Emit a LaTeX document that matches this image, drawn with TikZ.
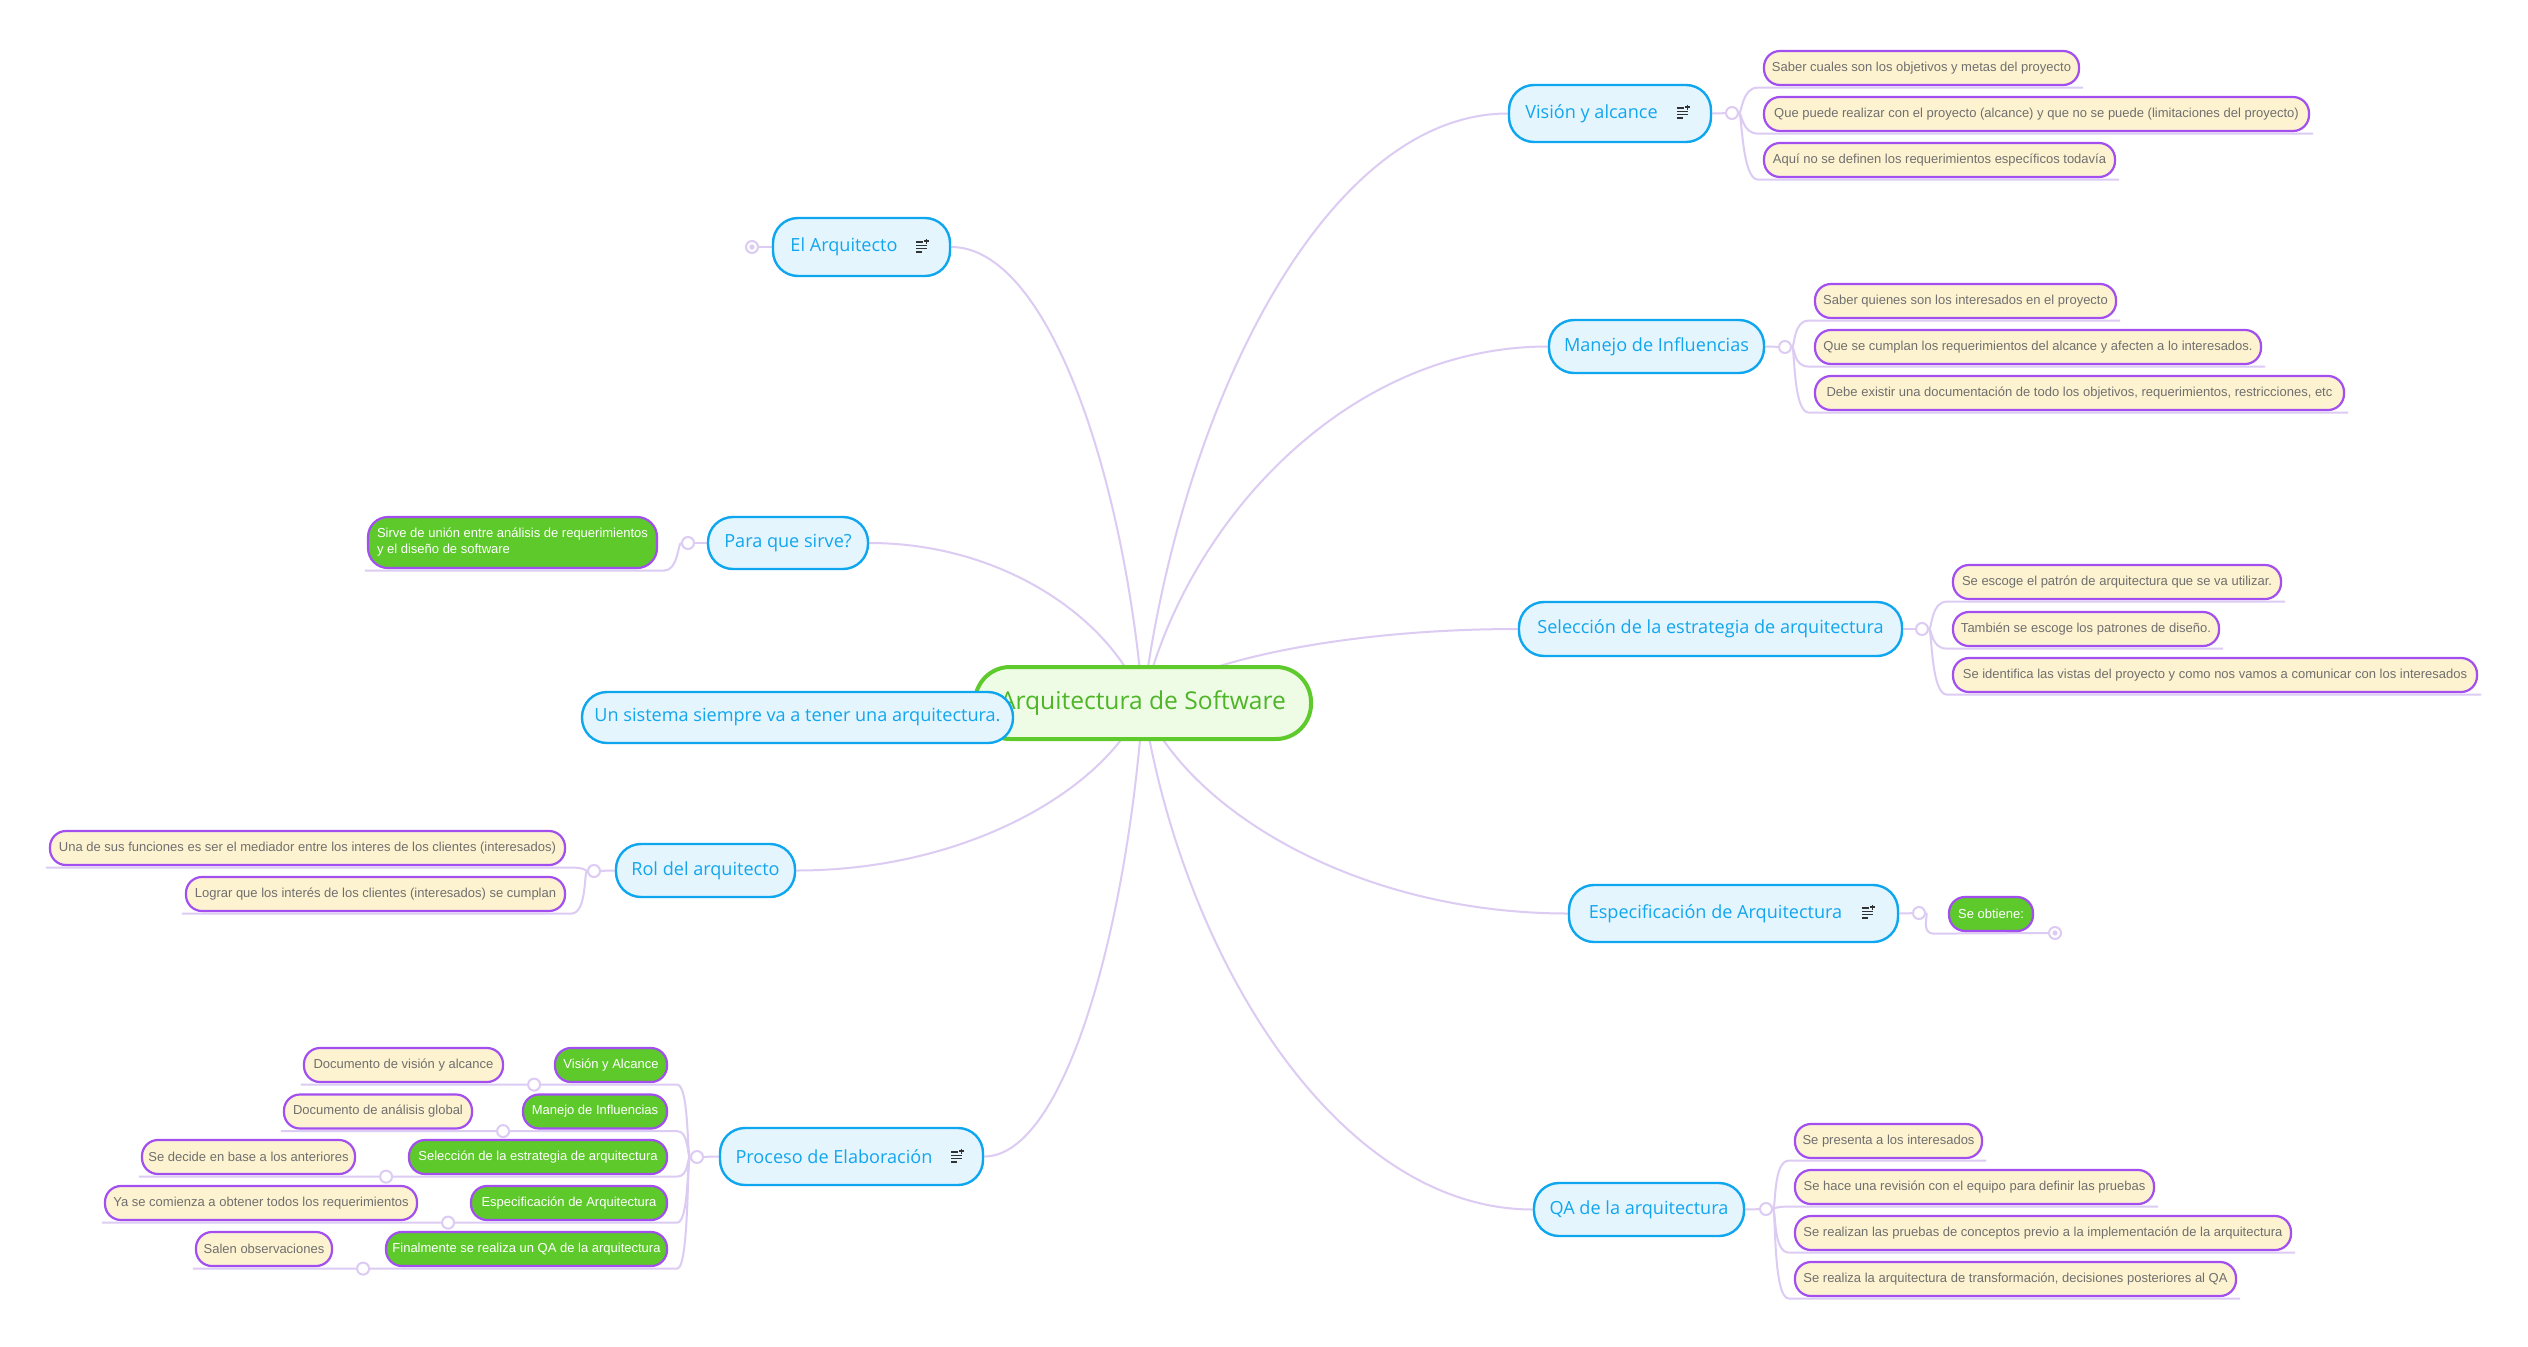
\documentclass[tikz,border=0pt]{standalone}
\usepackage{fontspec}
\setmainfont{Liberation Sans}
\newfontfamily\topicfont{Open Sans}
\usetikzlibrary{backgrounds}
\definecolor{connc}{HTML}{DCCBF2}
\definecolor{topicb}{HTML}{0EA7EF}
\definecolor{topicf}{HTML}{E4F5FD}
\definecolor{topict}{HTML}{12A6EE}
\definecolor{cenb}{HTML}{5FCA2C}
\definecolor{cenf}{HTML}{EEFCE6}
\definecolor{cent}{HTML}{4DB527}
\definecolor{leafb}{HTML}{A34FF0}
\definecolor{leaff}{HTML}{FEF3D0}
\definecolor{leaft}{HTML}{6F6F6F}
\definecolor{greenf}{HTML}{5DC92B}
\definecolor{iconc}{HTML}{333333}
\tikzset{
  conn/.style={draw=connc, line width=2pt},
  topic/.style={draw=topicb, fill=topicf, line width=2.4pt, rounded corners=25pt, inner sep=0pt, text=topict, font=\topicfont\fontsize{18.1}{20}\selectfont},
  leaf/.style={draw=leafb, fill=leaff, line width=2.2pt, rounded corners=16pt, minimum height=34pt, inner sep=0pt, text=leaft, font=\fontsize{13}{15}\selectfont},
  gleaf/.style={leaf, fill=greenf, text=white},
  circ/.style={circle, draw=connc, fill=white, line width=2pt, minimum size=12pt, inner sep=0pt},
  noteicon/.pic={
    \draw[iconc, line width=1.5pt] (-6,-5) -- (1,-5) (-6,-1.7) -- (5,-1.7) (-6,1.6) -- (5,1.6) (-6,4.9) -- (0,4.9);
    \draw[iconc, line width=1.2pt] (4.5,-8.5) -- (4.5,-3.5) (2,-6) -- (7,-6);
  }
}
\begin{document}
\begin{tikzpicture}[x=1pt,y=-1pt]
\useasboundingbox (0,0) rectangle (2528,1347);

% ---------- main topics ----------
\node[topic, minimum width=202pt, minimum height=57pt] (vis) at (1610,113.5) {Visión y alcance\kern 37pt};
\pic at (1683,113) {noteicon};
\node[topic, minimum width=215pt, minimum height=53pt] (man) at (1656.5,346.5) {Manejo de Influencias};
\node[topic, minimum width=383pt, minimum height=54pt] (sel) at (1710.5,629) {Selección de la estrategia de arquitectura};
\node[topic, minimum width=329pt, minimum height=57pt] (esp) at (1733.5,913.5) {Especificación de Arquitectura\kern 36pt};
\pic at (1868,913) {noteicon};
\node[topic, minimum width=210pt, minimum height=53pt] (qa) at (1639,1209.5) {QA de la arquitectura};
\node[topic, minimum width=177pt, minimum height=58pt] (arq) at (861.5,247) {El Arquitecto\kern 35pt};
\pic at (922,247) {noteicon};
\node[topic, minimum width=160pt, minimum height=52pt] (para) at (788,543) {Para que sirve?};
\node[topic, minimum width=179pt, minimum height=53pt] (rol) at (705.5,870.5) {Rol del arquitecto};
\node[topic, minimum width=263pt, minimum height=57pt] (proc) at (851.5,1156.5) {Proceso de Elaboración\kern 35pt};
\pic at (957,1157) {noteicon};

% ---------- collapse circles ----------
\node[circ] (vc) at (1732,113) {};
\node[circ] (mc) at (1785,347) {};
\node[circ] (sc) at (1922,629) {};
\node[circ] (ec) at (1919,913) {};
\node[circ] (qc) at (1766,1209) {};
\node[circ] (ac) at (752,247) {};
\fill[connc] (ac) circle (2.6pt);
\node[circ] (pc) at (688,543) {};
\node[circ] (rc) at (594,871) {};
\node[circ] (prc) at (697,1157) {};

% ---------- leaves right ----------
\node[leaf, minimum width=315pt] (v1) at (1921.5,68) {Saber cuales son los objetivos y metas del proyecto};
\node[leaf, minimum width=545pt] (v2) at (2036.5,114) {Que puede realizar con el proyecto (alcance) y que no se puede (limitaciones del proyecto)};
\node[leaf, minimum width=351pt] (v3) at (1939.5,160) {Aquí no se definen los requerimientos específicos todavía};

\node[leaf, minimum width=301pt] (m1) at (1965.5,301) {Saber quienes son los interesados en el proyecto};
\node[leaf, minimum width=446pt] (m2) at (2038,347) {Que se cumplan los requerimientos del alcance y afecten a lo interesados.};
\node[leaf, minimum width=529pt] (m3) at (2079.5,393) {Debe existir una documentación de todo los objetivos, requerimientos, restricciones, etc};

\node[leaf, minimum width=328pt] (s1) at (2117,582) {Se escoge el patrón de arquitectura que se va utilizar.};
\node[leaf, minimum width=266pt] (s2) at (2086,629) {También se escoge los patrones de diseño.};
\node[leaf, minimum width=524pt] (s3) at (2215,675) {Se identifica las vistas del proyecto y como nos vamos a comunicar con los interesados};

\node[gleaf, minimum width=84pt] (obt) at (1991,914) {Se obtiene:};
\node[circ] (ec2) at (2055,933) {};
\fill[connc] (ec2) circle (2.6pt);

\node[leaf, minimum width=187pt] (q1) at (1888.5,1141) {Se presenta a los interesados};
\node[leaf, minimum width=359pt] (q2) at (1974.5,1187) {Se hace una revisión con el equipo para definir las pruebas};
\node[leaf, minimum width=496pt] (q3) at (2043,1233) {Se realizan las pruebas de conceptos previo a la implementación de la arquitectura};
\node[leaf, minimum width=441pt] (q4) at (2015.5,1279) {Se realiza la arquitectura de transformación, decisiones posteriores al QA};

% ---------- leaves left ----------
\node[gleaf, minimum width=289pt, minimum height=51pt, rounded corners=20pt, align=left, font=\fontsize{13}{16}\selectfont] (g0) at (512.5,542.5) {Sirve de unión entre análisis de requerimientos\\y el diseño de software};

\node[leaf, minimum width=515pt] (r1) at (307.5,848) {Una de sus funciones es ser el mediador entre los interes de los clientes (interesados)};
\node[leaf, minimum width=379pt] (r2) at (375.5,894) {Lograr que los interés de los clientes (interesados) se cumplan};

\node[gleaf, minimum width=112pt] (pg1) at (611,1065) {Visión y Alcance};
\node[gleaf, minimum width=144pt] (pg2) at (595,1111.5) {Manejo de Influencias};
\node[gleaf, minimum width=258pt] (pg3) at (538,1157) {Selección de la estrategia de arquitectura};
\node[gleaf, minimum width=196pt] (pg4) at (569,1203) {Especificación de Arquitectura};
\node[gleaf, minimum width=281pt] (pg5) at (526.5,1249) {Finalmente se realiza un QA de la arquitectura};

\node[leaf, minimum width=199pt] (pl1) at (403.5,1065) {Documento de visión y alcance};
\node[leaf, minimum width=188pt] (pl2) at (378,1111.5) {Documento de análisis global};
\node[leaf, minimum width=213pt] (pl3) at (248.5,1157) {Se decide en base a los anteriores};
\node[leaf, minimum width=312pt] (pl4) at (261,1203) {Ya se comienza a obtener todos los requerimientos};
\node[leaf, minimum width=136pt] (pl5) at (264,1249) {Salen observaciones};

\foreach \i in {1,...,5}{
  \node[circ] (pk\i) at ([xshift=30pt,yshift=-1.5pt]pl\i.south east) {};
}

% ---------- central ----------
\node[draw=cenb, fill=cenf, line width=4pt, rounded corners=35pt, minimum width=336pt, minimum height=72pt, inner sep=0pt, text=cent, font=\topicfont\fontsize{24.6}{28}\selectfont] (cen) at (1143,703) {Arquitectura de Software};
\node[topic, minimum width=431pt, minimum height=51pt] (uns) at (797.5,717.5) {Un sistema siempre va a tener una arquitectura.};

% ---------- connectors ----------
\begin{scope}[on background layer]
\fill[white] (0,0) rectangle (2528,1347);
\draw[conn] (cen.center) .. controls +(37,-295) and +(-183,0) .. (vis.west);
\draw[conn] (cen.center) .. controls +(41,-178) and +(-203,0) .. (man.west);
\draw[conn] (cen.center) .. controls +(38,-37) and +(-188,0) .. (sel.west);
\draw[conn] (cen.center) .. controls +(43,105) and +(-213,0) .. (esp.west);
\draw[conn] (cen.center) .. controls +(39,253) and +(-196,0) .. (qa.west);
\draw[conn] (cen.center) .. controls +(-19,-228) and +(97,0) .. (arq.east);
\draw[conn] (cen.center) .. controls +(-28,-80) and +(138,0) .. (para.east);
\draw[conn] (cen.center) .. controls +(-35,84) and +(174,0) .. (rol.east);
\draw[conn] (cen.center) .. controls +(-16,227) and +(80,0) .. (proc.east);

\draw[conn] (vis.east) -- (vc);
\draw[conn] (man.east) -- (mc);
\draw[conn] (sel.east) -- (sc);
\draw[conn] (esp.east) -- (ec);
\draw[conn] (qa.east) -- (qc);
\draw[conn] (arq.west) -- (ac);
\draw[conn] (para.west) -- (pc);
\draw[conn] (rol.west) -- (rc);
\draw[conn] (proc.west) -- (prc);

\foreach \c/\l in {vc/v1,vc/v2,vc/v3,mc/m1,mc/m2,mc/m3,sc/s1,sc/s2,sc/s3,qc/q1,qc/q2,qc/q3,qc/q4}{
  \draw[conn] (\c) .. controls +(10,0) and +(-16,0) .. ([xshift=-5pt,yshift=-1.5pt]\l.south west) -- ([xshift=3pt,yshift=-1.5pt]\l.south east);
}
\draw[conn] (ec) .. controls +(10,0) and +(-14,0) .. ([xshift=-14pt,yshift=-1.5pt]obt.south west) -- (ec2);

\foreach \l in {r1,r2}{
  \draw[conn] (rc) .. controls +(-10,0) and +(16,0) .. ([xshift=5pt,yshift=-1.5pt]\l.south east) -- ([xshift=-3pt,yshift=-1.5pt]\l.south west);
}
\draw[conn] (pc) .. controls +(-10,0) and +(14,0) .. ([xshift=6pt,yshift=-1.5pt]g0.south east) -- ([xshift=-2pt,yshift=-1.5pt]g0.south west);
\foreach \i in {1,...,5}{
  \draw[conn] (prc) .. controls +(-10,0) and +(12,0) .. ([xshift=9pt,yshift=-1.5pt]pg\i.south east) -- ([xshift=-2pt,yshift=-1.5pt]pl\i.south west);
}
\end{scope}
\end{tikzpicture}
\end{document}
